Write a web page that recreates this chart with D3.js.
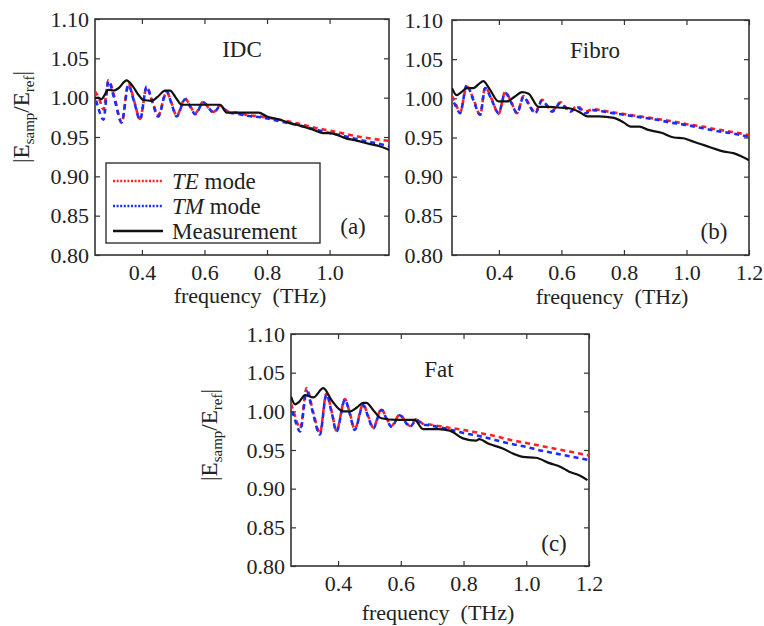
<!doctype html>
<html>
  <head>
    <script src="https://d3js.org/d3.v7.min.js"></script>
    <style>
      body { margin: 0; background: #fff; }
      text { font-family: "Liberation Serif", "Times New Roman", serif; fill: #222; }
    </style>
  </head>
  <body>
    <div id="chart"></div>
    <script>
      // ---- data ----
      // panel (a) IDC
      var idcSimFreq = [0.25, 0.262, 0.277, 0.293, 0.314, 0.335, 0.357, 0.375, 0.394, 0.415, 0.433, 0.452, 0.479, 0.495, 0.511, 0.538, 0.555, 0.57, 0.597, 0.613, 0.629, 0.65, 0.677, 0.70, 0.735, 0.78, 0.84, 0.90, 0.95, 1.0, 1.05, 1.10, 1.15, 1.194];
      var idcTE = [1.008, 1.000, 0.985, 1.022, 0.998, 0.968, 1.018, 0.996, 0.973, 1.013, 0.996, 0.978, 1.007, 0.993, 0.977, 0.999, 0.989, 0.980, 0.995, 0.987, 0.982, 0.990, 0.982, 0.981, 0.978, 0.976, 0.972, 0.967, 0.962, 0.958, 0.954, 0.950, 0.947, 0.945];
      var idcTM = [1.002, 0.985, 0.972, 1.021, 0.995, 0.969, 1.016, 0.995, 0.972, 1.014, 0.995, 0.976, 1.008, 0.992, 0.976, 0.998, 0.988, 0.979, 0.994, 0.987, 0.981, 0.989, 0.981, 0.980, 0.977, 0.975, 0.970, 0.965, 0.960, 0.955, 0.951, 0.946, 0.942, 0.938];
      var idcMeasFreq = [0.25, 0.26, 0.27, 0.293, 0.31, 0.325, 0.351, 0.37, 0.39, 0.405, 0.431, 0.45, 0.474, 0.49, 0.51, 0.527, 0.55, 0.6, 0.65, 0.671, 0.72, 0.773, 0.80, 0.842, 0.87, 0.90, 0.949, 0.98, 1.0, 1.055, 1.08, 1.10, 1.13, 1.162, 1.194];
      var idcMeas = [0.999, 1.000, 0.998, 1.010, 1.009, 1.012, 1.022, 1.015, 1.003, 0.997, 0.996, 1.001, 1.009, 1.009, 0.999, 0.991, 0.991, 0.991, 0.991, 0.981, 0.981, 0.981, 0.976, 0.972, 0.968, 0.965, 0.959, 0.955, 0.955, 0.948, 0.946, 0.944, 0.941, 0.938, 0.933];

      // panel (b) Fibro
      var fibroSimFreq = [0.25, 0.262, 0.276, 0.297, 0.318, 0.34, 0.356, 0.378, 0.399, 0.42, 0.44, 0.458, 0.479, 0.497, 0.516, 0.538, 0.555, 0.57, 0.597, 0.613, 0.629, 0.65, 0.676, 0.70, 0.75, 0.80, 0.85, 0.90, 0.95, 1.0, 1.05, 1.10, 1.15, 1.2];
      var fibroTE = [1.003, 0.993, 0.982, 1.015, 1.000, 0.979, 1.014, 0.998, 0.980, 1.008, 0.995, 0.981, 1.003, 0.992, 0.982, 0.998, 0.990, 0.984, 0.995, 0.989, 0.984, 0.990, 0.983, 0.986, 0.983, 0.980, 0.977, 0.974, 0.971, 0.967, 0.964, 0.960, 0.957, 0.953];
      var fibroTM = [1.000, 0.990, 0.981, 1.017, 0.998, 0.979, 1.013, 0.997, 0.981, 1.007, 0.994, 0.981, 1.002, 0.991, 0.981, 0.997, 0.990, 0.983, 0.994, 0.988, 0.983, 0.989, 0.981, 0.985, 0.982, 0.979, 0.976, 0.973, 0.969, 0.966, 0.962, 0.958, 0.955, 0.951];
      var fibroMeasFreq = [0.25, 0.265, 0.28, 0.297, 0.318, 0.335, 0.35, 0.37, 0.399, 0.425, 0.45, 0.474, 0.495, 0.527, 0.56, 0.6, 0.629, 0.66, 0.682, 0.72, 0.768, 0.80, 0.821, 0.85, 0.875, 0.92, 0.96, 0.99, 1.013, 1.05, 1.08, 1.12, 1.15, 1.18, 1.2];
      var fibroMeas = [1.013, 1.004, 1.008, 1.013, 1.013, 1.018, 1.022, 1.012, 0.996, 0.996, 1.002, 1.008, 1.006, 0.989, 0.989, 0.988, 0.987, 0.982, 0.977, 0.977, 0.975, 0.969, 0.964, 0.964, 0.960, 0.956, 0.950, 0.949, 0.946, 0.941, 0.937, 0.932, 0.930, 0.925, 0.921];

      // panel (c) Fat
      var fatSimFreq = [0.25, 0.262, 0.279, 0.30, 0.32, 0.342, 0.363, 0.38, 0.395, 0.422, 0.438, 0.453, 0.48, 0.496, 0.512, 0.538, 0.555, 0.57, 0.597, 0.613, 0.629, 0.65, 0.67, 0.69, 0.75, 0.80, 0.85, 0.90, 0.95, 1.0, 1.05, 1.10, 1.15, 1.2];
      var fatTE = [1.010, 0.995, 0.978, 1.030, 1.000, 0.972, 1.023, 0.999, 0.975, 1.016, 0.997, 0.977, 1.009, 0.994, 0.979, 1.003, 0.991, 0.981, 0.996, 0.988, 0.981, 0.990, 0.984, 0.983, 0.979, 0.976, 0.972, 0.968, 0.963, 0.959, 0.955, 0.951, 0.947, 0.943];
      var fatTM = [1.006, 0.990, 0.974, 1.026, 0.998, 0.970, 1.022, 0.998, 0.974, 1.015, 0.996, 0.976, 1.008, 0.993, 0.978, 1.002, 0.990, 0.980, 0.995, 0.987, 0.980, 0.989, 0.983, 0.982, 0.977, 0.972, 0.968, 0.963, 0.958, 0.954, 0.949, 0.945, 0.941, 0.937];
      var fatMeasFreq = [0.25, 0.263, 0.275, 0.295, 0.321, 0.353, 0.38, 0.416, 0.438, 0.46, 0.48, 0.49, 0.515, 0.538, 0.586, 0.644, 0.671, 0.72, 0.756, 0.798, 0.84, 0.85, 0.88, 0.925, 0.96, 0.989, 1.03, 1.074, 1.11, 1.137, 1.17, 1.195];
      var fatMeas = [1.019, 1.009, 1.012, 1.021, 1.018, 1.030, 1.014, 1.000, 1.000, 1.005, 1.011, 1.011, 1.000, 0.991, 0.989, 0.989, 0.977, 0.977, 0.975, 0.965, 0.962, 0.964, 0.958, 0.952, 0.945, 0.941, 0.940, 0.933, 0.928, 0.922, 0.917, 0.911];

      var yTicks = [0.80, 0.85, 0.90, 0.95, 1.00, 1.05, 1.10];
      var xTicks = [0.4, 0.6, 0.8, 1.0, 1.2];
      var legendLabels = [["TE", " mode"], ["TM", " mode"], ["", "Measurement"]];

      // ---- layout ----
      var width = 764, height = 626;
      var svg = d3.select("#chart").append("svg")
        .attr("width", width)
        .attr("height", height);

      var panels = [
        { id: "a", title: "IDC", tag: "(a)", left: 95, right: 389, top: 19, bottom: 255, xmax: 1.19,
          simF: idcSimFreq, te: idcTE, tm: idcTM, measF: idcMeasFreq, meas: idcMeas,
          titleX: 242, titleY: 57, tagX: 353, tagY: 234, xlabX: 250, xlabY: 303, ylabX: 29, ylabY: 117, legend: true },
        { id: "b", title: "Fibro", tag: "(b)", left: 452, right: 749, top: 20, bottom: 255, xmax: 1.2,
          simF: fibroSimFreq, te: fibroTE, tm: fibroTM, measF: fibroMeasFreq, meas: fibroMeas,
          titleX: 595, titleY: 58, tagX: 714, tagY: 239, xlabX: 612, xlabY: 304, ylabX: null },
        { id: "c", title: "Fat", tag: "(c)", left: 291, right: 589, top: 334, bottom: 566, xmax: 1.2,
          simF: fatSimFreq, te: fatTE, tm: fatTM, measF: fatMeasFreq, meas: fatMeas,
          titleX: 439, titleY: 377, tagX: 554, tagY: 551, xlabX: 438, xlabY: 620, ylabX: 217, ylabY: 435 }
      ];

      var axisColor = "#333";

      panels.forEach(function(p) {
        var x = d3.scaleLinear().domain([0.25, p.xmax]).range([p.left, p.right]);
        var y = d3.scaleLinear().domain([0.80, 1.10]).range([p.bottom, p.top]);
        var g = svg.append("g");

        g.append("clipPath").attr("id", "clip-" + p.id)
          .append("rect")
          .attr("x", p.left).attr("y", p.top)
          .attr("width", p.right - p.left).attr("height", p.bottom - p.top);

        var xt = xTicks.filter(function(t) { return t <= p.xmax + 1e-9; });

        // bottom axis with labels, inward ticks
        g.append("g")
          .attr("transform", "translate(0," + p.bottom + ")")
          .call(d3.axisBottom(x).tickValues(xt).tickFormat(d3.format(".1f")).tickSizeInner(-5).tickSizeOuter(0).tickPadding(9));
        // left axis
        g.append("g")
          .attr("transform", "translate(" + p.left + ",0)")
          .call(d3.axisLeft(y).tickValues(yTicks).tickFormat(d3.format(".2f")).tickSizeInner(-5).tickSizeOuter(0).tickPadding(p.id === "b" ? 9 : 6));
        // mirrored ticks top/right
        g.append("g")
          .attr("transform", "translate(0," + p.top + ")")
          .call(d3.axisTop(x).tickValues(xt).tickFormat("").tickSizeInner(-5).tickSizeOuter(0));
        g.append("g")
          .attr("transform", "translate(" + p.right + ",0)")
          .call(d3.axisRight(y).tickValues(yTicks).tickFormat("").tickSizeInner(-5).tickSizeOuter(0));

        g.selectAll(".domain").remove();
        g.selectAll(".tick line").attr("stroke", axisColor).attr("stroke-width", 1.2);
        g.selectAll(".tick text")
          .attr("font-family", "Liberation Serif, serif")
          .attr("font-size", 22)
          .attr("fill", "#222");

        // the box
        g.append("rect")
          .attr("x", p.left).attr("y", p.top)
          .attr("width", p.right - p.left).attr("height", p.bottom - p.top)
          .attr("fill", "none").attr("stroke", axisColor).attr("stroke-width", 1.6);

        var line = function(fs) {
          return d3.line()
            .x(function(d, i) { return x(fs[i]); })
            .y(function(d) { return y(d); })
            .curve(d3.curveMonotoneX);
        };

        var plot = g.append("g").attr("clip-path", "url(#clip-" + p.id + ")");
        plot.append("path")
          .attr("d", line(p.simF)(p.te))
          .attr("fill", "none").attr("stroke", "#ff2020").attr("stroke-width", 2.6)
          .attr("stroke-dasharray", "5,4");
        plot.append("path")
          .attr("d", line(p.simF)(p.tm))
          .attr("fill", "none").attr("stroke", "#1a2cff").attr("stroke-width", 2.6)
          .attr("stroke-dasharray", "5,4").attr("stroke-dashoffset", 4.5);
        plot.append("path")
          .attr("d", line(p.measF)(p.meas))
          .attr("fill", "none").attr("stroke", "#111").attr("stroke-width", 2.2);

        // title and panel tag
        g.append("text").attr("x", p.titleX).attr("y", p.titleY)
          .attr("text-anchor", "middle").attr("font-size", 23).text(p.title);
        g.append("text").attr("x", p.tagX).attr("y", p.tagY)
          .attr("text-anchor", "middle").attr("font-size", 23).text(p.tag);

        // x label
        g.append("text").attr("x", p.xlabX).attr("y", p.xlabY)
          .attr("text-anchor", "middle").attr("font-size", 22)
          .attr("xml:space", "preserve").style("white-space", "pre")
          .text("frequency  (THz)");

        // y label
        if (p.ylabX !== null) {
          var yl = g.append("text")
            .attr("transform", "translate(" + p.ylabX + "," + p.ylabY + ") rotate(-90)")
            .attr("text-anchor", "middle").attr("font-size", 23);
          yl.append("tspan").text("|E");
          yl.append("tspan").attr("font-size", 15).attr("dy", 5).text("samp");
          yl.append("tspan").attr("dy", -5).text("/E");
          yl.append("tspan").attr("font-size", 15).attr("dy", 5).text("ref");
          yl.append("tspan").attr("dy", -5).text("|");
        }

        // legend
        if (p.legend) {
          var lg = g.append("g");
          lg.append("rect").attr("x", 106).attr("y", 163).attr("width", 214).attr("height", 80)
            .attr("fill", "#fff").attr("stroke", axisColor).attr("stroke-width", 1.4);
          var styles = [
            { color: "#ff2020", dash: "2,1.6", w: 2.4 },
            { color: "#1a2cff", dash: "2,1.6", w: 2.4 },
            { color: "#111", dash: null, w: 2.4 }
          ];
          legendLabels.forEach(function(lab, i) {
            var ly = 181 + i * 25;
            lg.append("line").attr("x1", 113).attr("x2", 163).attr("y1", ly).attr("y2", ly)
              .attr("stroke", styles[i].color).attr("stroke-width", styles[i].w)
              .attr("stroke-dasharray", styles[i].dash);
            var t = lg.append("text").attr("x", 172).attr("y", ly + 8).attr("font-size", 23);
            if (lab[0]) t.append("tspan").attr("font-style", "italic").text(lab[0]);
            t.append("tspan").attr("xml:space", "preserve").style("white-space", "pre").text(lab[1]);
          });
        }
      });
    </script>
  </body>
</html>
